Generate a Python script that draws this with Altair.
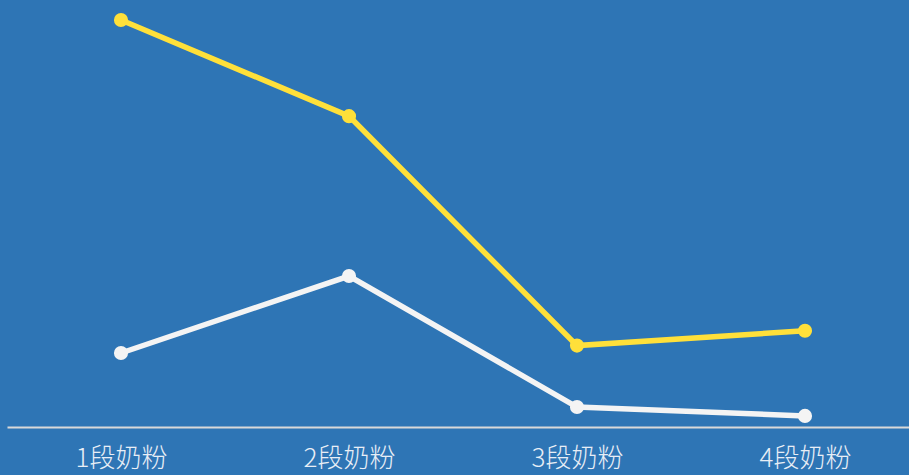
import altair as alt
import pandas as pd

categories = ["1段奶粉", "2段奶粉", "3段奶粉", "4段奶粉"]
series_a = [55.0, 42.0, 11.0, 13.0]   # yellow
series_b = [10.0, 20.4, 2.7, 1.5]     # white
series_names = ["A", "B"]
series_colors = ["#FFE03A", "#F4F4F4"]

rows = []
for c, v in zip(categories, series_a):
    rows.append({"cat": c, "val": v, "s": "A"})
for c, v in zip(categories, series_b):
    rows.append({"cat": c, "val": v, "s": "B"})
df = pd.DataFrame(rows)

x = alt.X("cat:N", sort=categories, title=None,
          scale=alt.Scale(paddingInner=0, paddingOuter=0, range=[0, 912]),
          axis=alt.Axis(labelAngle=0, ticks=False, grid=False,
                        domainColor="#D9D9D9", domainWidth=2,
                        labelColor="#E8EEF6", labelFontSize=26,
                        labelFont="Noto Sans CJK SC", labelFontWeight=300,
                        labelPadding=18))
y = alt.Y("val:Q", title=None, scale=alt.Scale(domain=[0, 57.7], nice=False, zero=True),
          axis=None)
color = alt.Color("s:N", scale=alt.Scale(domain=series_names, range=series_colors), legend=None)

base = alt.Chart(df).encode(x=x, y=y, color=color, order=alt.Order("s:N", sort="descending"))
lines = base.mark_line(strokeWidth=5.5)
points = base.mark_circle(size=200, opacity=1)

chart = alt.layer(lines, points).properties(
    width=902, height=427,
    background="#2E75B5",
    padding={"left": 7, "top": 0, "right": 0, "bottom": 48},
    autosize=alt.AutoSizeParams(type="none"),
).configure_view(stroke=None)

chart.save("out.html", embed_options={"renderer": "svg", "actions": False})
